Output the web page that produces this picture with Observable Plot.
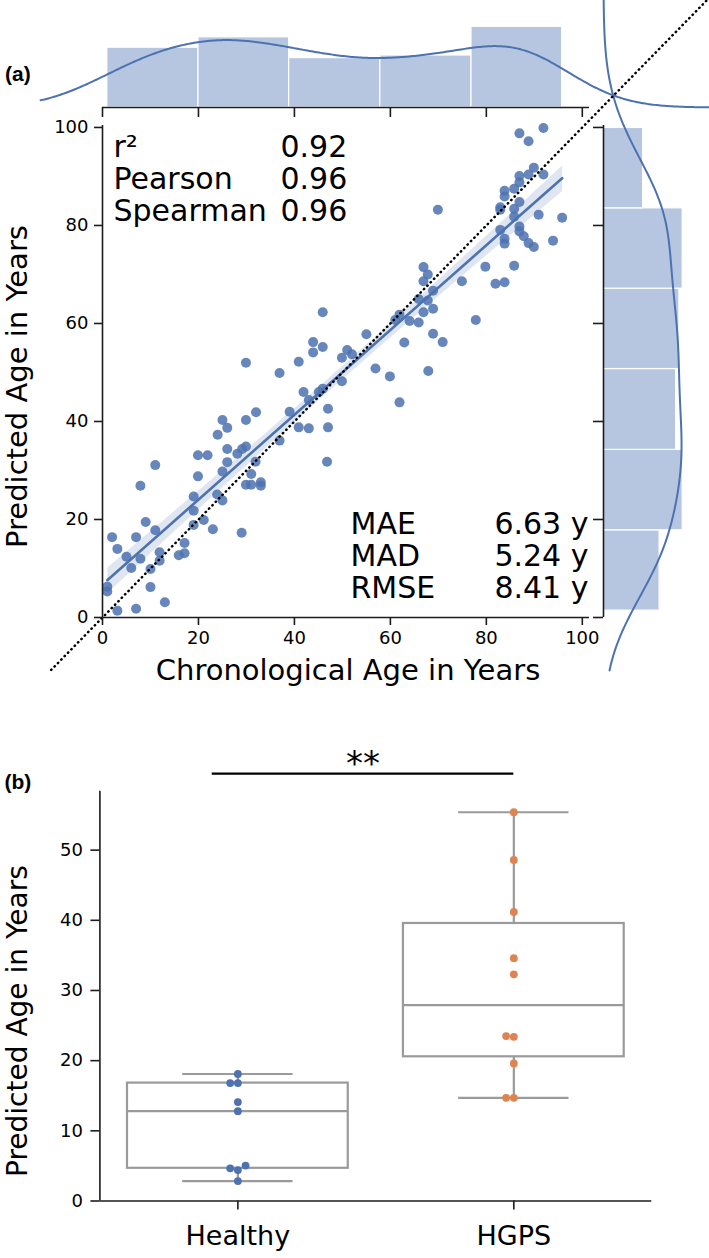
<!DOCTYPE html>
<html><head><meta charset="utf-8">
<script src="https://cdn.jsdelivr.net/npm/d3@7"></script>
<script src="https://cdn.jsdelivr.net/npm/@observablehq/plot@0.6"></script>
<style>
html,body{margin:0;padding:0;background:#fff;}
#wrap{position:relative;width:709px;height:1258px;overflow:hidden;background:#fff;}
#wrap svg{position:absolute;left:0;top:0;}
</style></head><body><div id="wrap"></div>
<script>
// ---------- Panel (a) data ----------
const chronoAge = [
  43.9,43.9,45.9,51.0,49.9,29.9,40.9,36.9,49.9,41.9,45.1,45.9,43.0,47.0,47.0,46.8,40.9,43.0,39.0,36.9,
  32.0,29.9,25.0,26.0,24.0,26.0,28.1,29.1,29.9,19.9,21.9,19.9,25.0,26.0,31.9,31.0,29.9,31.0,33.0,33.0,
  11.0,7.9,19.0,19.0,23.9,25.0,21.1,19.0,23.0,29.0,9.0,11.0,7.0,2.0,3.1,5.0,7.9,6.0,11.9,11.9,
  10.0,15.9,17.1,17.1,10.0,1.0,1.0,3.1,7.0,13.0,
  55.0,52.0,56.9,59.9,62.9,68.9,70.9,67.9,61.9,45.9,
  86.9,88.8,91.9,89.9,91.9,88.8,86.9,86.9,85.8,83.8,83.8,82.9,82.9,85.8,86.9,85.8,90.9,95.8,69.9,82.9,
  86.9,86.9,87.8,88.8,89.9,93.9,83.8,83.8,79.8,85.8,81.9,83.8,74.9,66.9,67.8,66.9,68.9,65.9,67.8,68.9,
  66.9,61.9,64.0,65.9,77.8,61.0
];
const predictedAge = [
  56.2,54.1,55.2,54.6,53.0,52.0,52.2,49.9,48.2,46.0,46.0,46.7,44.4,42.6,38.8,31.8,38.8,38.6,42.0,36.1,
  41.9,40.3,40.3,38.7,37.3,34.4,33.4,34.4,34.9,33.1,33.1,28.8,29.8,31.7,31.8,29.3,27.1,27.1,27.6,26.9,
  31.1,26.9,24.7,21.8,25.1,23.9,19.9,18.9,18.0,17.3,19.5,17.8,16.4,16.4,14.0,12.4,12.0,10.1,13.3,11.6,
  9.9,12.7,13.1,15.2,6.2,6.3,5.3,1.4,1.8,3.1,
  57.8,53.7,50.8,49.2,56.1,57.9,56.2,50.3,43.9,62.3,
  98.8,97.2,99.9,91.8,90.4,90.4,90.1,88.8,87.5,87.1,85.9,83.7,83.2,83.4,84.8,81.8,82.2,81.6,83.2,79.1,
  79.8,78.8,77.8,76.4,75.6,76.9,77.3,76.3,71.6,71.8,68.1,68.4,68.6,71.5,70.0,68.6,66.7,65.0,64.7,63.0,
  62.3,61.8,60.5,60.2,60.7,60.7
];
const statLabels = ["r²", "Pearson", "Spearman"];
const statValues = ["0.92", "0.96", "0.96"];
const errLabels = ["MAE", "MAD", "RMSE"];
const errValues = ["6.63 y", "5.24 y", "8.41 y"];
const ageTicks = [0, 20, 40, 60, 80, 100];
const xHistEdges = [1.0, 20.0, 38.9, 57.9, 76.9, 95.8];
const xHistCounts = [23, 27, 19, 20, 31];
const yHistEdges = [1.4, 17.8, 34.2, 50.7, 67.1, 83.5, 99.9];
const yHistCounts = [17, 24, 22, 23, 24, 12];
const identityRange = [-10.7, 130];
const xTitle = "Chronological Age in Years";
const yTitle = "Predicted Age in Years";

// ---------- Panel (b) data ----------
const groups = ["Healthy", "HGPS"];
const groupColors = ["#4c72b0", "#dd8452"];
const healthyAge = [18.1, 16.8, 16.8, 14.1, 12.8, 5.05, 4.66, 4.4, 2.84];
const hgpsAge = [55.4, 48.6, 41.2, 34.6, 32.3, 23.5, 23.4, 19.6, 14.7, 14.7];
const boxTicks = [0, 10, 20, 30, 40, 50];
const sigBracket = {from: -0.093, to: 1.0, level: 60.9, label: "**"};

// ---------- styling ----------
const blue = "#4c72b0";
const histFill = "#b7c6e0";
const axisColor = "#1c1c1c";
const boxGray = "#9a9a9a";
const baseStyle = {background: "transparent", overflow: "visible", fontFamily: "'DejaVu Sans', sans-serif", fontSize: "18px", color: "#000"};

const points = chronoAge.map((x, i) => ({x, y: predictedAge[i]}));

function kde(values, grid, scale) {
  const n = values.length;
  const bw = d3.deviation(values) * Math.pow(n, -0.2);
  const norm = n * bw * Math.sqrt(2 * Math.PI);
  return grid.map(g => ({g, d: scale * d3.sum(values, v => Math.exp(-0.5 * ((g - v) / bw) ** 2)) / norm}));
}
const topKde = kde(chronoAge, d3.range(-12.9, 128, 0.4), d3.sum(xHistCounts) * (xHistEdges[1] - xHistEdges[0]));
const rightKde = kde(predictedAge, d3.range(-10.8, 131, 0.4), d3.sum(yHistCounts) * (yHistEdges[1] - yHistEdges[0]));

const wrap = document.getElementById("wrap");

// main scatter
const mainPlot = Plot.plot({
  width: 709, height: 700, style: baseStyle,
  marginLeft: 102, marginRight: 120, marginTop: 125, marginBottom: 83,
  x: {domain: [0, 101.5]}, y: {domain: [0, 100.4]},
  marks: [
    Plot.dot(points, {x: "x", y: "y", r: 5, fill: blue, fillOpacity: 0.85, stroke: "none"}),
    Plot.linearRegressionY(points, {x: "x", y: "y", stroke: blue, strokeWidth: 2.6, fill: blue, fillOpacity: 0.18}),
    Plot.line(identityRange.map(v => ({v})), {x: "v", y: "v", stroke: "#000", strokeWidth: 2.5, strokeLinecap: "round", strokeDasharray: "0.4,4.4"}),
    Plot.ruleY([0], {stroke: axisColor, strokeWidth: 1.6}),
    Plot.ruleX([0], {stroke: axisColor, strokeWidth: 1.6}),
    Plot.axisX({ticks: ageTicks, tickSize: 8, tickPadding: 6, fontSize: 18, label: null, stroke: axisColor, strokeWidth: 1.6}),
    Plot.axisY({ticks: ageTicks, tickSize: 8, tickPadding: 6, fontSize: 18, label: null, stroke: axisColor, strokeWidth: 1.6}),
    Plot.text([statLabels.join("\n")], {text: d => d, frameAnchor: "top-left", dx: 11, dy: 95, lineAnchor: "bottom", textAnchor: "start", lineHeight: 1.0667, fontSize: 30}),
    Plot.text([statValues.join("\n")], {text: d => d, frameAnchor: "top-left", dx: 178, dy: 95, lineAnchor: "bottom", textAnchor: "start", lineHeight: 1.0667, fontSize: 30}),
    Plot.text([errLabels.join("\n")], {text: d => d, frameAnchor: "bottom-left", dx: 248, dy: -20, lineAnchor: "bottom", textAnchor: "start", lineHeight: 1.0667, fontSize: 30}),
    Plot.text([errValues.join("\n")], {text: d => d, frameAnchor: "bottom-right", dx: -1, dy: -20, lineAnchor: "bottom", textAnchor: "end", lineHeight: 1.0667, fontSize: 30}),
    Plot.text([xTitle], {text: d => d, frameAnchor: "bottom", textAnchor: "middle", dx: 2, dy: 62, lineAnchor: "bottom", fontSize: 29}),
    Plot.text([yTitle], {text: d => d, frameAnchor: "left", textAnchor: "middle", dx: -76, dy: 15, rotate: -90, lineAnchor: "bottom", fontSize: 29}),
    Plot.text(["(a)"], {text: d => d, frameAnchor: "top-left", dx: -97.5, dy: -45, lineAnchor: "bottom", textAnchor: "start", fontSize: 21, fontWeight: "bold", fontFamily: "'Liberation Sans', Arial, sans-serif"})
  ]
});

// top marginal
const topPlot = Plot.plot({
  width: 709, height: 700, style: baseStyle,
  marginLeft: 102, marginRight: 120, marginTop: 0, marginBottom: 593,
  x: {domain: [0, 101.5]}, y: {domain: [0, 107 / 2.6], axis: null},
  marks: [
    Plot.rect(xHistCounts, {x1: (d, i) => xHistEdges[i], x2: (d, i) => xHistEdges[i + 1], y1: 0, y2: d => d, fill: histFill, stroke: "#fff", strokeWidth: 1.2}),
    Plot.line(topKde, {x: "g", y: "d", stroke: blue, strokeWidth: 2}),
    Plot.ruleY([0], {stroke: axisColor, strokeWidth: 1.6}),
    Plot.axisX({ticks: ageTicks, tickSize: 10, tickFormat: () => "", label: null, stroke: axisColor, strokeWidth: 1.6})
  ]
});

// right marginal
const rightPlot = Plot.plot({
  width: 709, height: 700, style: baseStyle,
  marginLeft: 603, marginRight: 0, marginTop: 125, marginBottom: 83,
  x: {domain: [0, 106 / 3.3], axis: null}, y: {domain: [0, 100.4]},
  marks: [
    Plot.rect(yHistCounts, {y1: (d, i) => yHistEdges[i], y2: (d, i) => yHistEdges[i + 1], x1: 0, x2: d => d, fill: histFill, stroke: "#fff", strokeWidth: 1.2}),
    Plot.line(rightKde, {x: "d", y: "g", stroke: blue, strokeWidth: 2}),
    Plot.ruleX([0], {stroke: axisColor, strokeWidth: 1.6}),
    Plot.axisY({ticks: ageTicks, tickSize: 10, tickFormat: () => "", label: null, stroke: axisColor, strokeWidth: 1.6})
  ]
});

// ---------- Panel (b) ----------
const bH = 538, bML = 99.4, bMR = 57.7, bMT = 70.7, bMB = 57.5, bYMax = 58.4;
const pxPerY = (bH - bMT - bMB) / bYMax;
const pxPerBand = (709 - bML - bMR) / 2;
const byGroup = [healthyAge, hgpsAge];
const stats = byGroup.map((vals, i) => {
  const s = vals.slice().sort(d3.ascending);
  const q1 = d3.quantileSorted(s, 0.25), med = d3.quantileSorted(s, 0.5), q3 = d3.quantileSorted(s, 0.75);
  const iqr = q3 - q1;
  const lo = d3.min(s.filter(v => v >= q1 - 1.5 * iqr));
  const hi = d3.max(s.filter(v => v <= q3 + 1.5 * iqr));
  return {i, q1, med, q3, lo, hi};
});
const dotR = 3.9, diam = 7.7;
const swarm = [];
byGroup.forEach((vals, gi) => {
  const placed = [];
  vals.slice().sort(d3.ascending).forEach(v => {
    const yv = v * pxPerY;
    for (let k = 0; k < 30; k++) {
      const off = k === 0 ? 0 : (k % 2 ? -1 : 1) * Math.ceil(k / 2) * diam;
      if (placed.every(p => Math.hypot(p.off - off, p.yv - yv) >= diam - 0.01)) {
        placed.push({off, yv});
        swarm.push({g: gi, value: v, x: gi + off / pxPerBand, color: groupColors[gi]});
        break;
      }
    }
  });
});

const boxPlot = Plot.plot({
  width: 709, height: bH, style: baseStyle,
  marginLeft: bML, marginRight: bMR, marginTop: bMT, marginBottom: bMB,
  x: {domain: [-0.5, 1.5]}, y: {domain: [0, bYMax]}, color: {type: "identity"},
  marks: [
    Plot.ruleX(stats, {x: "i", y1: "lo", y2: "q1", stroke: boxGray, strokeWidth: 2.2}),
    Plot.ruleX(stats, {x: "i", y1: "q3", y2: "hi", stroke: boxGray, strokeWidth: 2.2}),
    Plot.ruleY(stats, {y: "lo", x1: d => d.i - 0.2, x2: d => d.i + 0.2, stroke: boxGray, strokeWidth: 2.2}),
    Plot.ruleY(stats, {y: "hi", x1: d => d.i - 0.2, x2: d => d.i + 0.2, stroke: boxGray, strokeWidth: 2.2}),
    Plot.rect(stats, {x1: d => d.i - 0.4, x2: d => d.i + 0.4, y1: "q1", y2: "q3", fill: "none", stroke: boxGray, strokeWidth: 2.2}),
    Plot.ruleY(stats, {y: "med", x1: d => d.i - 0.4, x2: d => d.i + 0.4, stroke: boxGray, strokeWidth: 2.2}),
    Plot.dot(swarm, {x: "x", y: "value", r: dotR, fill: "color", stroke: "none"}),
    Plot.ruleY([0], {stroke: axisColor, strokeWidth: 1.6}),
    Plot.ruleX([-0.5], {stroke: axisColor, strokeWidth: 1.6}),
    Plot.axisY({ticks: boxTicks, tickSize: 9, tickPadding: 8, fontSize: 18, label: null, stroke: axisColor, strokeWidth: 1.6}),
    Plot.axisX({ticks: [0, 1], tickFormat: i => groups[i], tickSize: 9, tickPadding: 16, fontSize: 27, label: null, stroke: axisColor, strokeWidth: 1.6}),
    Plot.ruleY([sigBracket], {y: "level", x1: "from", x2: "to", stroke: "#000", strokeWidth: 2.2}),
    Plot.text([sigBracket], {x: d => (d.from + d.to) / 2, y: "level", text: "label", lineAnchor: "bottom", dy: 1, fontSize: 34}),
    Plot.text([yTitle], {text: d => d, frameAnchor: "left", textAnchor: "middle", dx: -73, dy: 25, rotate: -90, lineAnchor: "bottom", fontSize: 28}),
    Plot.text(["(b)"], {text: d => d, frameAnchor: "top-left", dx: -95.4, dy: -2.7, lineAnchor: "bottom", textAnchor: "start", fontSize: 21, fontWeight: "bold", fontFamily: "'Liberation Sans', Arial, sans-serif"})
  ]
});
boxPlot.style.top = "720px";

wrap.append(topPlot, rightPlot, mainPlot, boxPlot);
</script>
</body></html>
